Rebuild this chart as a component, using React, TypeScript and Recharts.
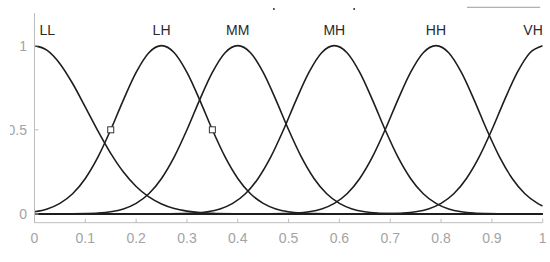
import React from 'react';
import { ComposedChart, Line, Scatter, XAxis, YAxis, ReferenceDot, ReferenceLine } from 'recharts';

// Axis ticks
const xTicks = [0, 0.1, 0.2, 0.3, 0.4, 0.5, 0.6, 0.7, 0.8, 0.9, 1];
const xTickLabels = ['0', '0.1', '0.2', '0.3', '0.4', '0.5', '0.6', '0.7', '0.8', '0.9', '1'];
const yTicks = [0, 0.5, 1];
const yTickLabels = ['0', '0.5', '1'];

// Membership function names and label positions
const setNames = ['LL', 'LH', 'MM', 'MH', 'HH', 'VH'];
const labelX = [0.025, 0.25, 0.4, 0.59, 0.79, 0.981];
const labelY = 1.093;

// Curves
const llX = [0, 0.025, 0.05, 0.075, 0.1, 0.125, 0.15, 0.175, 0.2, 0.225, 0.25, 0.275, 0.3, 0.325, 0.35, 0.4, 0.45, 1];
const llY = [1, 0.972, 0.893, 0.775, 0.635, 0.492, 0.36, 0.249, 0.163, 0.101, 0.059, 0.032, 0.017, 0.008, 0.004, 0.001, 0, 0];

const lhX = [0, 0.025, 0.05, 0.075, 0.1, 0.125, 0.15, 0.175, 0.2, 0.225, 0.25, 0.275, 0.3, 0.325, 0.35, 0.375, 0.4, 0.425, 0.45, 0.475, 0.5, 0.525, 0.55, 0.6, 1];
const lhY = [0.013, 0.03, 0.063, 0.12, 0.211, 0.339, 0.5, 0.678, 0.841, 0.958, 1, 0.958, 0.841, 0.678, 0.5, 0.339, 0.211, 0.12, 0.063, 0.03, 0.013, 0.005, 0.002, 0, 0];

const mmX = [0, 0.05, 0.1, 0.125, 0.15, 0.175, 0.2, 0.225, 0.25, 0.275, 0.3, 0.325, 0.35, 0.375, 0.4, 0.425, 0.45, 0.475, 0.5, 0.525, 0.55, 0.575, 0.6, 0.625, 0.65, 0.675, 0.7, 0.75, 1];
const mmY = [0, 0, 0.002, 0.005, 0.013, 0.03, 0.063, 0.12, 0.211, 0.339, 0.5, 0.678, 0.841, 0.958, 1, 0.958, 0.841, 0.678, 0.5, 0.339, 0.211, 0.12, 0.063, 0.03, 0.013, 0.005, 0.002, 0, 0];

const mhX = [0, 0.24, 0.29, 0.315, 0.34, 0.365, 0.39, 0.415, 0.44, 0.465, 0.49, 0.515, 0.54, 0.565, 0.59, 0.615, 0.64, 0.665, 0.69, 0.715, 0.74, 0.765, 0.79, 0.815, 0.84, 0.865, 0.89, 0.94, 1];
const mhY = [0, 0, 0.002, 0.005, 0.013, 0.03, 0.063, 0.12, 0.211, 0.339, 0.5, 0.678, 0.841, 0.958, 1, 0.958, 0.841, 0.678, 0.5, 0.339, 0.211, 0.12, 0.063, 0.03, 0.013, 0.005, 0.002, 0, 0];

const hhX = [0, 0.44, 0.49, 0.515, 0.54, 0.565, 0.59, 0.615, 0.64, 0.665, 0.69, 0.715, 0.74, 0.765, 0.79, 0.815, 0.84, 0.865, 0.89, 0.915, 0.94, 0.965, 0.99, 1];
const hhY = [0, 0, 0.002, 0.005, 0.013, 0.03, 0.063, 0.12, 0.211, 0.339, 0.5, 0.678, 0.841, 0.958, 1, 0.958, 0.841, 0.678, 0.5, 0.339, 0.211, 0.12, 0.063, 0.047];

const vhX = [0, 0.65, 0.7, 0.725, 0.75, 0.775, 0.8, 0.825, 0.85, 0.875, 0.9, 0.925, 0.95, 0.975, 1];
const vhY = [0, 0, 0.002, 0.005, 0.013, 0.03, 0.063, 0.12, 0.211, 0.339, 0.5, 0.678, 0.841, 0.958, 1];

// Square markers
const markerX = [0.15, 0.35];
const markerY = [0.5, 0.5];

// Stray marks above the plot
const topLineX = [0.851, 0.995];
const topLineY = 1.228;
const topDotX = [0.471, 0.629];
const topDotY = 1.218;

const toPts = (xs: number[], ys: number[]) => xs.map((x, i) => ({ x, y: ys[i] }));
const curves = [
  toPts(llX, llY),
  toPts(lhX, lhY),
  toPts(mmX, mmY),
  toPts(mhX, mhY),
  toPts(hhX, hhY),
  toPts(vhX, vhY),
];
const markers = toPts(markerX, markerY);

const FONT = '"Liberation Sans", Arial, Helvetica, sans-serif';
const AXIS = '#bdbdbd';
const TICKTXT = '#a3a3a3';
const CURVE = '#1e1e1e';

export default function App() {
  return (
    <div style={{ position: 'absolute', left: 0, top: 0, width: 550, height: 262, background: '#fff', clipPath: 'inset(0 0 0 10px)' }}>
      <ComposedChart width={550} height={262} margin={{ top: 13, right: 7.3, left: 4.5, bottom: 9.3 }}>
        <XAxis
          xAxisId="b"
          type="number"
          dataKey="x"
          domain={[0, 1]}
          ticks={xTicks}
          allowDataOverflow
          height={30}
          tickSize={-4}
          tickMargin={14}
          stroke={AXIS}
          tick={{ fill: TICKTXT, fontSize: 14, fontFamily: FONT }}
          tickFormatter={(v: number) => xTickLabels[xTicks.indexOf(v)] ?? String(v)}
        />
        <XAxis
          xAxisId="t"
          orientation="top"
          type="number"
          domain={[0, 1]}
          ticks={xTicks}
          allowDataOverflow
          height={0}
          tickSize={-4}
          stroke={AXIS}
          tickFormatter={() => ''}
        />
        <YAxis
          yAxisId="l"
          type="number"
          domain={[-0.052, 1.194]}
          ticks={yTicks}
          allowDataOverflow
          width={30}
          tickSize={-4}
          tickMargin={11.5}
          stroke={AXIS}
          tick={{ fill: TICKTXT, fontSize: 14, fontFamily: FONT }}
          tickFormatter={(v: number) => yTickLabels[yTicks.indexOf(v)] ?? String(v)}
        />
        <YAxis
          yAxisId="r"
          orientation="right"
          type="number"
          domain={[-0.052, 1.194]}
          ticks={yTicks}
          allowDataOverflow
          width={0}
          tickSize={-4}
          stroke={AXIS}
          tickFormatter={() => ''}
        />
        <ReferenceLine xAxisId="b" yAxisId="l" y={0} stroke={CURVE} strokeWidth={1.6} />
        {curves.map((pts, i) => (
          <Line
            key={setNames[i]}
            data={pts}
            dataKey="y"
            xAxisId="b"
            yAxisId="l"
            type="monotone"
            stroke={CURVE}
            strokeWidth={1.6}
            dot={false}
            activeDot={false}
            isAnimationActive={false}
          />
        ))}
        <Scatter
          data={markers}
          dataKey="y"
          xAxisId="b"
          yAxisId="l"
          isAnimationActive={false}
          shape={(p: any) => (
            <rect x={p.cx - 3} y={p.cy - 3} width={6} height={6} fill="#fff" stroke="#333" strokeWidth={1} />
          )}
        />
        {setNames.map((name, i) => (
          <ReferenceDot
            key={'lab' + name}
            xAxisId="b"
            yAxisId="l"
            x={labelX[i]}
            y={labelY}
            ifOverflow="visible"
            shape={(p: any) => (
              <text x={p.cx} y={p.cy} textAnchor="middle" dominantBaseline="central" fill="#2a2a2a" fontSize={14} fontFamily={FONT}>
                {name}
              </text>
            )}
          />
        ))}
        <ReferenceLine
          xAxisId="b"
          yAxisId="l"
          ifOverflow="visible"
          segment={[{ x: topLineX[0], y: topLineY }, { x: topLineX[1], y: topLineY }]}
          stroke="#9a9a9a"
          strokeWidth={1}
        />
        {topDotX.map((x, i) => (
          <ReferenceDot key={'td' + i} xAxisId="b" yAxisId="l" x={x} y={topDotY} r={1} fill="#333" stroke="none" ifOverflow="visible" />
        ))}
      </ComposedChart>
    </div>
  );
}
